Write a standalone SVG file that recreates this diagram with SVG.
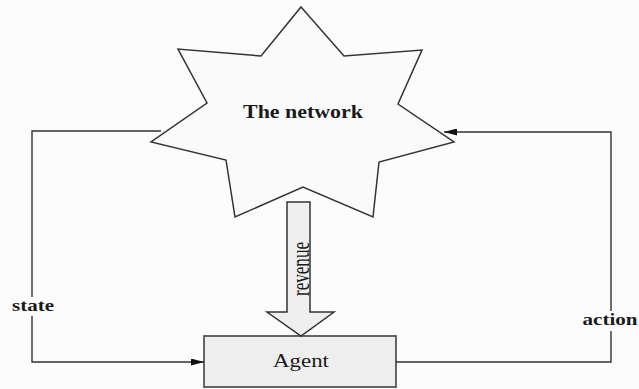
<svg xmlns="http://www.w3.org/2000/svg" width="639" height="389" viewBox="0 0 639 389">
<defs>
<style>
.line{fill:none;stroke:#333;stroke-width:1.4}
.shape{stroke:#333;stroke-width:1.5}
.lbl{font-family:"Liberation Serif","Times New Roman",serif;fill:#1a1a1a}
</style>
<marker id="ah" viewBox="0 0 13 7" refX="13" refY="3.5" markerWidth="13" markerHeight="7" markerUnits="userSpaceOnUse" orient="auto">
<path d="M0,0 L13,3.5 L0,7 Z" fill="#111"/>
</marker>
</defs>
<rect width="639" height="389" fill="#fcfcfc"/>
<g id="network">
<polygon class="shape" fill="#fafafa" points="301,7 344,56 422,50 398,104 454,142 379,162 373,217 303,187 235,217 226,160 151,142 207,103 178,49 261,56"/>
<text class="lbl" x="303" y="118" font-size="18" font-weight="bold" text-anchor="middle" textLength="120" lengthAdjust="spacingAndGlyphs">The network</text>
</g>
<g id="agent">
<rect x="204" y="336" width="192" height="51" fill="#eeeeee" stroke="#555" stroke-width="1.8"/>
<text class="lbl" x="301" y="367" font-size="18" text-anchor="middle" textLength="56" lengthAdjust="spacingAndGlyphs">Agent</text>
</g>
<g id="revenue">
<polygon class="shape" fill="#efefef" stroke-width="1.3" points="287,202 310,202 310,312 334,312 301,336 267,312 287,312"/>
<text class="lbl" transform="translate(308.5,296) rotate(-90)" x="0" y="0" font-size="25" textLength="54" lengthAdjust="spacingAndGlyphs">revenue</text>
</g>
<g id="connectors">
<path class="line" d="M161,131 L32,131 L32,297"/>
<path class="line" d="M32,316 L32,362 L204,362" marker-end="url(#ah)"/>
<path class="line" d="M396,362 L611,362 L611,331"/>
<path class="line" d="M611,311 L611,132 L444,132" marker-end="url(#ah)"/>
<text class="lbl" x="33" y="311" font-size="16" font-weight="bold" text-anchor="middle" textLength="42" lengthAdjust="spacingAndGlyphs">state</text>
<text class="lbl" x="610" y="325" font-size="16" font-weight="bold" text-anchor="middle" textLength="55" lengthAdjust="spacingAndGlyphs">action</text>
</g>
</svg>
